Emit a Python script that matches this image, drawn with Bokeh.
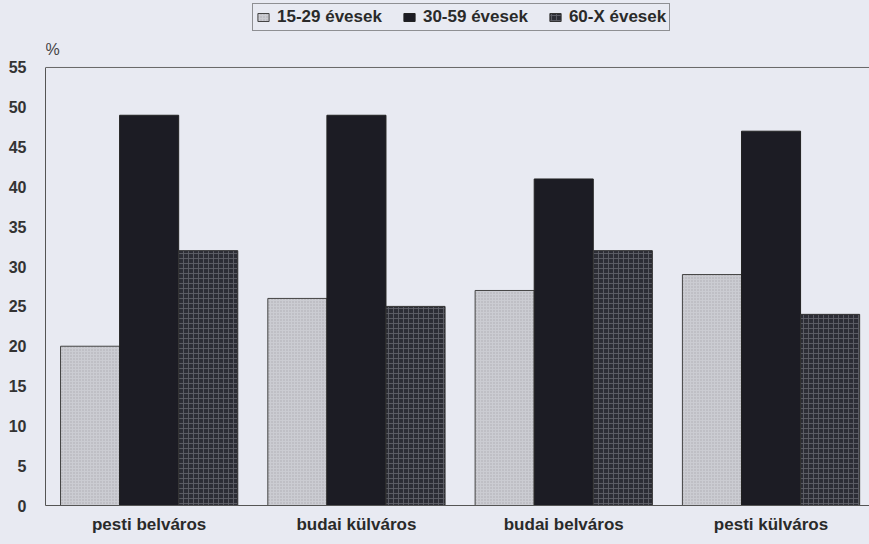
from bokeh.plotting import figure
from bokeh.models import (ColumnDataSource, Range1d, FixedTicker, Legend, LegendItem,
                          Span, Label)
from bokeh.transform import dodge
from bokeh.embed import file_html
from bokeh.resources import INLINE

categories = ["pesti belváros", "budai külváros", "budai belváros", "pesti külváros"]
age_15_29 = [20, 26, 27, 29]
age_30_59 = [49, 49, 41, 47]
age_60_x = [32, 25, 32, 24]
series_names = ["15-29 évesek", "30-59 évesek", "60-X évesek"]
y_ticks = [0, 5, 10, 15, 20, 25, 30, 35, 40, 45, 50, 55]
y_max = 55

BG = "#e8eaf2"
FONT = "Liberation Sans"

xpos = [i + 0.5 for i in range(len(categories))]
src = ColumnDataSource(dict(x=xpos, a=age_15_29, b=age_30_59, c=age_60_x, cat=categories))

# frame spans the whole canvas height; the value axis tops out at 55 well below
p = figure(width=869, height=544, output_backend="svg", toolbar_location=None,
           x_range=Range1d(0, 3.975), y_range=Range1d(0, 63.41),
           background_fill_color=BG, border_fill_color=BG,
           min_border_left=45, min_border_right=0, min_border_top=0, min_border_bottom=39)
p.outline_line_color = None
p.grid.visible = False

bw = 0.285
r1 = p.vbar(x=dodge("x", -bw, range=p.x_range), top="a", width=bw, source=src,
            fill_color="#cbccd2", line_color="#444444", line_width=1,
            hatch_pattern=".", hatch_color="#a4a5ac", hatch_scale=3, hatch_alpha=0.8)
r2 = p.vbar(x=dodge("x", 0, range=p.x_range), top="b", width=bw, source=src,
            fill_color="#1c1c24", line_color="#222222", line_width=1)
r3 = p.vbar(x=dodge("x", bw, range=p.x_range), top="c", width=bw, source=src,
            fill_color="#2c2d35", line_color="#333333", line_width=1,
            hatch_pattern="+", hatch_color="#5f6068", hatch_scale=5, hatch_weight=1, hatch_alpha=0.9)

p.add_layout(Span(location=y_max, dimension="width", line_color="#666666", line_width=1))

# axes
p.yaxis.ticker = FixedTicker(ticks=y_ticks)
p.yaxis.bounds = (0, y_max)
p.yaxis.axis_line_color = "#555555"
p.yaxis.major_tick_line_color = None
p.yaxis.minor_tick_line_color = None
p.yaxis.major_tick_out = 0
p.yaxis.minor_tick_out = 0
p.yaxis.major_label_standoff = 19
p.yaxis.major_label_text_font = FONT
p.yaxis.major_label_text_font_size = "16px"
p.yaxis.major_label_text_font_style = "bold"
p.yaxis.major_label_text_color = "#333333"

p.xaxis.ticker = FixedTicker(ticks=xpos)
p.xaxis.major_label_overrides = {x: c for x, c in zip(xpos, categories)}
p.xaxis.axis_line_color = "#555555"
p.xaxis.major_tick_line_color = None
p.xaxis.minor_tick_line_color = None
p.xaxis.major_tick_out = 0
p.xaxis.minor_tick_out = 0
p.xaxis.major_label_standoff = 9
p.xaxis.major_label_text_font = FONT
p.xaxis.major_label_text_font_size = "17px"
p.xaxis.major_label_text_font_style = "bold"
p.xaxis.major_label_text_color = "#2a2a2a"

p.add_layout(Label(x=0, y=y_max, x_offset=0, y_offset=9, text="%", text_align="left",
                   text_baseline="bottom", text_font=FONT, text_font_size="16px",
                   text_color="#444444"))

legend = Legend(items=[LegendItem(label=series_names[0], renderers=[r1]),
                       LegendItem(label=series_names[1], renderers=[r2]),
                       LegendItem(label=series_names[2], renderers=[r3])],
                orientation="horizontal", location=(207, 474),
                border_line_color="#333333", border_line_width=1,
                background_fill_color=BG, background_fill_alpha=1,
                padding=3, spacing=20, margin=0,
                glyph_width=14, glyph_height=10, label_standoff=7, label_height=17,
                label_text_font=FONT, label_text_font_size="17px",
                label_text_font_style="bold", label_text_color="#2a2a2a")
p.add_layout(legend)

html = file_html(p, INLINE)
html = html.replace("<head>", "<head><style>body{background:#e8eaf2;}</style>", 1)
open("out.html", "w").write(html)
